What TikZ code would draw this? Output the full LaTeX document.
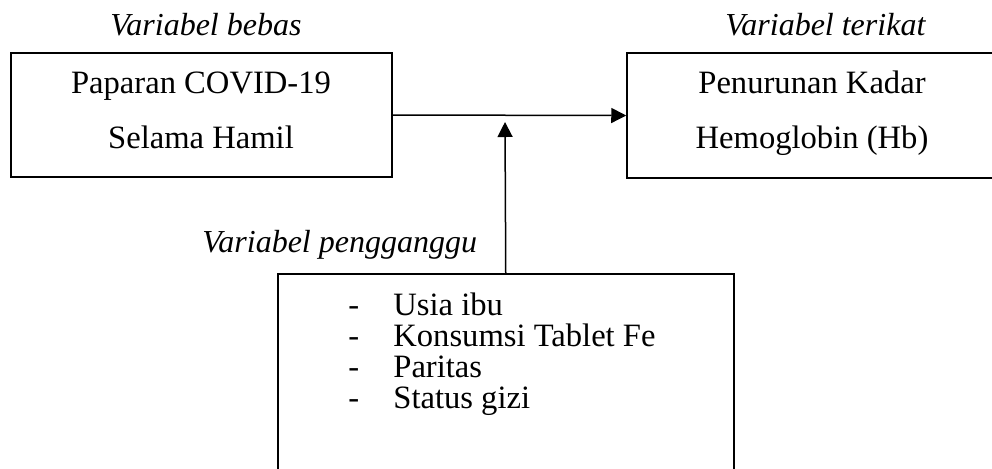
\documentclass[tikz,border=0pt]{standalone}
\usepackage{fontspec}
\setmainfont{Liberation Serif}
\usetikzlibrary{arrows.meta}
\begin{document}
\begin{tikzpicture}[x=0.5pt,y=-0.5pt,
  box/.style={draw=black, line width=0.75pt, inner sep=0pt, rectangle},
  lbl/.style={font=\fontsize{16}{19}\selectfont\itshape, inner sep=0pt, anchor=base west},
  boxtext/.style={font=\fontsize{16.3}{19}\selectfont, inner sep=0pt, anchor=base},
  listtext/.style={font=\fontsize{16.3}{19}\selectfont, inner sep=0pt, anchor=base west},
  arr/.style={line width=0.75pt, -{Triangle[length=7.5pt,width=7.5pt]}}]
\useasboundingbox (0,0) rectangle (992,468);
\begin{scope}
  \clip (0,0) rectangle (992,468);
  \node[box, minimum width=190.5pt, minimum height=62pt] (covid) at (201.5,115) {};
  \node[box, minimum width=185pt, minimum height=62.5pt] (hb) at (812,115.5) {};
  \node[box, minimum width=228pt, minimum height=145pt, anchor=north west] (conf) at (277,273) {};
\end{scope}
\node[boxtext] (covid1) at (201,93) {Paparan COVID-19};
\node[boxtext] (covid2) at (201,148) {Selama Hamil};
\node[boxtext] (hb1) at (812,93) {Penurunan Kadar};
\node[boxtext] (hb2) at (812,148) {Hemoglobin (Hb)};
\node[lbl] (lbebas) at (110,35) {Variabel bebas};
\node[lbl] (lterikat) at (725,35) {Variabel terikat};
\node[lbl] (lganggu) at (202,252) {Variabel pengganggu};
\node[listtext] (item1) at (348,315) {\makebox[22.5pt][l]{-}Usia ibu};
\node[listtext] (item2) at (348,346) {\makebox[22.5pt][l]{-}Konsumsi Tablet Fe};
\node[listtext] (item3) at (348,377) {\makebox[22.5pt][l]{-}Paritas};
\node[listtext] (item4) at (348,408) {\makebox[22.5pt][l]{-}Status gizi};
\coordinate (vtip) at (505,122);
\draw[arr] (covid.east) -- (hb.west);
\draw[arr] (conf.north) -- (vtip);
\end{tikzpicture}
\end{document}
